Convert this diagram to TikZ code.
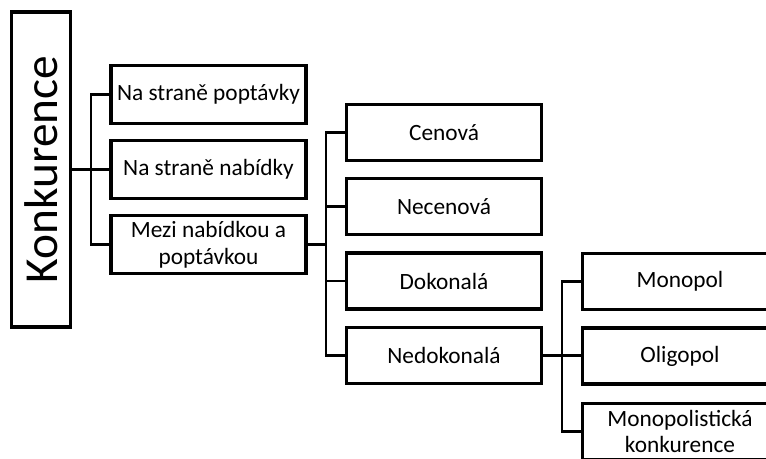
\documentclass[tikz,border=0pt]{standalone}
\usepackage{fontspec}
\setmainfont{Carlito}
\begin{document}
\begin{tikzpicture}[x=0.75pt,y=-0.75pt,
  box/.style={draw=black,line width=2.7pt,fill=white,align=center,font=\fontsize{17.5}{20}\selectfont,inner sep=0pt},
  l1/.style={box,minimum width=146pt,minimum height=43.5pt},
  l2/.style={box,minimum width=146.5pt,minimum height=42pt},
  conn/.style={line width=1.8pt}]
\useasboundingbox (0,0) rectangle (766,459);
\clip (0,0) rectangle (766,459);
\node[draw=black,line width=2.7pt,minimum width=44pt,minimum height=236pt,inner sep=0pt] (k) at (41,169.5)
  {\rotatebox{90}{\fontsize{35.5}{40}\selectfont Konkurence}};
\node[l1] (a1) at (208.5,94.5) {Na straně poptávky};
\node[l1] (a2) at (208.5,169.5) {Na straně nabídky};
\node[l1] (a3) at (208.5,244.5) {Mezi nabídkou a\\poptávkou};
\node[l2] (b1) at (444,132.5) {Cenová};
\node[l2] (b2) at (444,206.5) {Necenová};
\node[l2] (b3) at (444,281) {Dokonalá};
\node[l2] (b4) at (444,355.5) {Nedokonalá};
\node[l2] (c1) at (680,281.5) {Monopol};
\node[l2] (c2) at (680,356) {Oligopol};
\node[l2] (c3) at (680,431.5) {Monopolistická\\konkurence};
\coordinate (t1) at (91,0);
\coordinate (t2) at (326,0);
\coordinate (t3) at (562,0);
\draw[conn] (k.east) -- (a2.west);
\draw[conn] (a1.west) -- (a1.west -| t1) -- (a3.west -| t1) -- (a3.west);
\draw[conn] (a3.east) -- (a3.east -| t2);
\draw[conn] (b1.west) -- (b1.west -| t2) -- (b4.west -| t2) -- (b4.west);
\draw[conn] (b2.west) -- (b2.west -| t2);
\draw[conn] (b3.west) -- (b3.west -| t2);
\draw[conn] (b4.east) -- (b4.east -| c2.west);
\draw[conn] (c1.west) -- (c1.west -| t3) -- (c3.west -| t3) -- (c3.west);
\end{tikzpicture}
\end{document}
